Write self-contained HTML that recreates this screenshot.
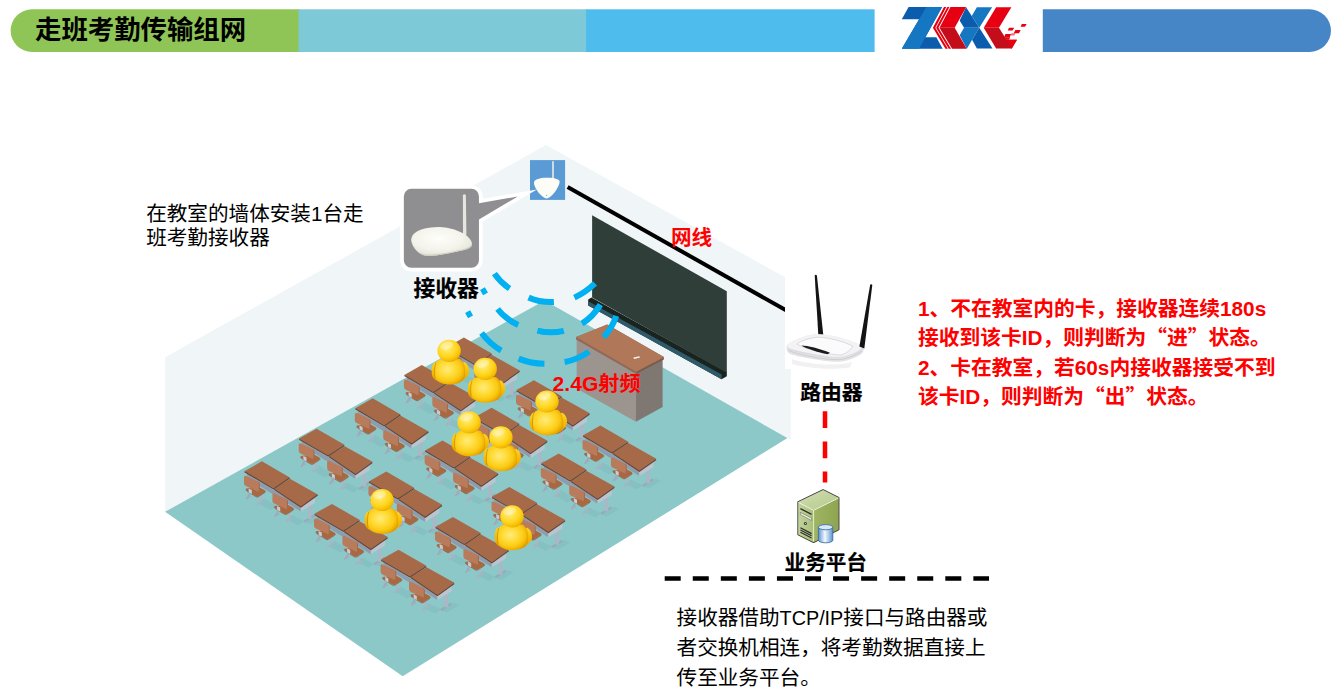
<!DOCTYPE html>
<html lang="zh-CN">
<head>
<meta charset="utf-8">
<title>走班考勤传输组网</title>
<style>
html,body{margin:0;padding:0;background:#fff;}
body{width:1337px;height:698px;overflow:hidden;position:relative;font-family:"Liberation Sans","Noto Sans CJK SC",sans-serif;}
svg{position:absolute;left:0;top:0;display:block;}
text{font-family:"Liberation Sans","Noto Sans CJK SC",sans-serif;}
.b{font-weight:bold;}
.h{stroke:#000;stroke-width:0.2px;}
.red{fill:#ff0000;}
</style>
</head>
<body>
<svg width="1337" height="698" viewBox="0 0 1337 698">
<defs>
<radialGradient id="gHead" cx="0.4" cy="0.34" r="0.68">
<stop offset="0" stop-color="#fff0a0"/><stop offset="0.3" stop-color="#ffe352"/><stop offset="0.65" stop-color="#ffd41c"/><stop offset="0.9" stop-color="#f6bd02"/><stop offset="1" stop-color="#e8ab00"/>
</radialGradient>
<radialGradient id="gBody" cx="0.42" cy="0.4" r="0.64">
<stop offset="0" stop-color="#ffeb7c"/><stop offset="0.4" stop-color="#ffdc3a"/><stop offset="0.72" stop-color="#fbca14"/><stop offset="0.92" stop-color="#eeb000"/><stop offset="1" stop-color="#dc9c00"/>
</radialGradient>
<linearGradient id="gArm" x1="0" y1="0" x2="0" y2="1">
<stop offset="0" stop-color="#ffd528"/><stop offset="0.5" stop-color="#f6bc04"/><stop offset="1" stop-color="#e8a800"/>
</linearGradient>
<g id="chair">
<path d="M5.4,22.6 L2.6,27.6" stroke="#9ca9ba" stroke-width="1.8" fill="none"/>
<path d="M1.4,28 L6.6,25" stroke="#a0adbd" stroke-width="1.5" fill="none"/>
<path d="M16.3,24 L16.3,31" stroke="#aab6c6" stroke-width="2" fill="none"/>
<path d="M12.8,33.2 L19.6,29.4" stroke="#a6b3c3" stroke-width="1.8" fill="none"/>
<path d="M1.6,17.4 Q1.2,18.6 2.4,19.4 L11.4,25 Q12.6,25.8 13.8,25.2 L20.4,21 Q21.6,20 20.4,19 L15,16 Z" fill="#aa6840"/>
<path d="M1.6,18.4 Q1.6,19.2 2.4,19.8 L11.4,25.4 Q12.6,26.2 13.8,25.6 L20.4,21.4 Q21,20.8 21,20.2" stroke="#8a5233" stroke-width="0.7" fill="none"/>
<path d="M-0.4,6.2 Q-0.4,4 1.8,4.8 L13.6,10.4 Q15.2,11.2 15.2,13 L15.2,19 Q15.2,21 13.2,20.2 L1.4,14.8 Q-0.4,14 -0.4,12.2 Z" fill="#b87c5d"/>
<path d="M13.8,10.6 Q15.2,11.4 15.2,13 L15.2,19 Q15.2,20.6 14,20.4 Q14.5,19.6 14.5,18.4 L14.5,12.6 Q14.5,11.4 13.8,10.6 Z" fill="#9a6244"/>
<polygon points="4.2,17.2 7.4,18.8 7.4,22.8 4.4,21.4" fill="#c3cdd8"/>
</g>
<g id="desk">
<polygon points="20,27 33,35 26,39 14,32" fill="#80bcbe" opacity="0.55"/>
<polygon points="48,44 60,50 54,54 42,48" fill="#80bcbe" opacity="0.55"/>
<polygon points="60,51 73,43 78,45.6 66,53" fill="#80bcbe" opacity="0.55"/>
<path d="M59.8,50.4 L70.4,43.8" stroke="#9aa8b8" stroke-width="2.2" fill="none"/>
<rect x="63.4" y="31" width="3.6" height="16.8" fill="#aab7c6"/>
<polygon points="2.6,2.4 56.4,35.4 56.4,40.4 2.6,7" fill="#8e9dae"/>
<polygon points="56.4,35.4 70.6,27 70.6,31.6 56.4,40.4" fill="#b9c5d1"/>
<polygon points="0,0 17.5,-9.9 45.4,6.2 29,16.9" fill="#a66a48"/>
<polygon points="29.6,17.4 45.6,7.6 73.4,23.2 56.5,35.2" fill="#a66a48"/>
<path d="M0.2,0.6 L29,17.5 L45.2,6.9" stroke="#6e4230" stroke-width="1.2" fill="none" stroke-linejoin="round"/>
<path d="M29.8,18 L56.5,35.8 L73.2,23.9" stroke="#6e4230" stroke-width="1.2" fill="none" stroke-linejoin="round"/>
<use href="#chair"/>
<use href="#chair" x="28.4" y="17.5"/>
</g>
<g id="person">
<path d="M-13.9,10.9 C-16.5,13 -17.6,16.5 -17.4,19.6 C-17.6,23 -16.8,26 -15.4,27.5 C-14.6,28.6 -13.4,29.4 -12.3,29.8 L-11,12 Z" fill="url(#gArm)"/>
<path d="M15.3,11.3 C18.4,13 20,16 20,19.6 C20.2,22.6 19,25 16.9,26.7 C15.8,28 14,29.6 12.4,30.6 L12,12 Z" fill="url(#gArm)"/>
<path d="M-9.1,8.6 C-12.4,9.4 -14,13 -14.3,19 C-14.6,24 -14.2,27.4 -12.3,29.8 C-9,32.4 -5,33.8 -0.5,33.8 C4,33.8 8.4,33 11.3,31.4 C14.4,29.6 15.6,27 15.6,22 C15.8,16 14.6,10.6 10.6,8.2 Z" fill="url(#gBody)"/>
<path d="M-13.3,11.6 C-14.7,16 -14.9,23 -14,28" stroke="#b87c00" stroke-width="0.7" fill="none" opacity="0.8"/>
<path d="M14.3,11.6 C15.7,16 16,22 15.3,27.2" stroke="#cf9300" stroke-width="0.6" fill="none" opacity="0.6"/>
<ellipse cx="0" cy="0" rx="11.7" ry="11.1" fill="url(#gHead)"/>
<ellipse cx="-2.4" cy="-5.2" rx="6.6" ry="3.8" fill="#fffad2" opacity="0.4" transform="rotate(-15 -2.4 -5.2)"/>
</g>

</defs>
<!-- header -->
<g id="header">
<path d="M32,9.3 H300 V52 H32 A21.35,21.35 0 0 1 32,9.3 Z" fill="#8fc556"/>
<rect x="298.55" y="9.3" width="289" height="42.7" fill="#7ec9d7"/>
<rect x="586.1" y="9.3" width="288.5" height="42.7" fill="#4ebced"/>
<path d="M1042.8,9.3 H1309.6 A21.35,21.35 0 0 1 1309.6,52 H1042.8 Z" fill="#4786c6"/>
<text x="35" y="38.5" font-size="26.4" class="b" fill="#000">走班考勤传输组网</text>
</g>
<g id="logo" transform="translate(895,0) scale(0.104712)">
<polygon points="130,68 450,68 290,355 395,355 455,465 65,465 230,185 65,185" fill="#0b5cad"/>
<polygon points="300,68 450,68 230,465 65,465 230,185" fill="#1576c2"/>
<polygon points="468,68 490,68 385,265 505,465 482,465 362,265" fill="#e60012"/>
<polygon points="500,68 520,68 415,265 535,465 513,465 393,265" fill="#e60012"/>
<polygon points="678.7,68.9 733,153.2 805,264.2 659.5,264.2 617.4,195.3" fill="#0b5cad"/>
<polygon points="782,68.9 927.6,68.9 805,264.2 733,153.2" fill="#1576c2"/>
<polygon points="659.5,264.2 805,264.2 736.1,379.1 688,463.4 684,463.4 617.4,337" fill="#1576c2"/>
<polygon points="805,264.2 931.4,463.4 782,463.4 736.1,379.1" fill="#0b5cad"/>
<polygon points="530,68 680,68 570,265 425,265" fill="#e60012"/>
<polygon points="425,265 570,265 685,465 545,465" fill="#c30d1a"/>
<polygon points="965.9,68.9 1111.4,68.9 992.7,264.2 847.2,264.2" fill="#e60012"/>
<polygon points="847.2,264.2 992.7,264.2 1065.4,379.1 1165,379.1 1115.2,463.4 965.9,463.4" fill="#c30d1a"/>
<polygon points="1065.4,379.1 1165,379.1 1115.2,463.4 1108,463.4" fill="#e60012"/>
<g fill="#e60012">
<polygon points="1211,230 1257,230 1241.6,256.6 1199.5,256.6"/>
<polygon points="1088.4,264.2 1138.2,264.2 1122.9,291 1077,291"/>
<polygon points="1149.7,287.2 1199.5,287.2 1184.2,317.8 1134.4,317.8"/>
<polygon points="1054,325.5 1107.6,325.5 1096.1,356.1 1042.5,356.1"/>
<polygon points="1112,318 1150,318 1140,340 1102,340" opacity="0.55"/>
<polygon points="1046,356 1100,356 1090,379.1 1060,379.1"/>
</g>
</g>

<g id="room">
<!-- walls -->
<polygon points="165.1,357.2 546,145 790.8,280.3 790.8,440 545,302 165.1,512.4" fill="#f0f6f8"/>
<!-- floor -->
<polygon points="165.1,511.8 544.6,300.4 787.4,438.1 402.7,676.3" fill="#8dc8c9"/>
<!-- blackboard -->
<polygon points="588.2,299.6 591.4,297.6 726.8,372 726.8,376.2 721.6,379.2 588.2,305.4" fill="#19231f"/>
<polygon points="588.2,301.2 721.6,374.6 721.6,379.2 588.2,305.4" fill="#2f5a6a"/>
<polygon points="592.1,215.3 726.8,291.2 726.8,372.8 592.1,297.4" fill="#2f3e38"/>
<!-- network cable -->
<line x1="567.6" y1="187" x2="786" y2="310.3" stroke="#000" stroke-width="4"/>
<!-- podium -->
<polygon points="576.6,339 636.2,373.4 635.9,421.8 576.6,388.6" fill="#9c958f"/>
<polygon points="636.2,373.4 662.6,359.2 662.6,407 635.9,421.8" fill="#7f7872"/>
<polygon points="576.1,337.1 607.2,324.5 663.9,357.1 636.2,371.8 636.2,374 576.1,339.6" fill="#8e6a58"/>
<polygon points="576.1,337.1 607.2,324.5 663.9,357.1 636.2,371.8" fill="#b07858"/>
<polygon points="636.2,371.8 663.9,357.1 663.9,359.4 636.2,374" fill="#7d5a48"/>
<polygon points="633.4,357.6 639.4,356.2 640,357.6 634,359" fill="#f4f4f4"/>
</g>

<g id="desks">
<use href="#desk" x="446.4" y="347.4"/>
<use href="#desk" x="404.3" y="374.9"/>
<use href="#desk" x="355.2" y="408.2"/>
<use href="#desk" x="299.1" y="438.6"/>
<use href="#desk" x="244.4" y="471.2"/>
<use href="#desk" x="516.4" y="390.1"/>
<use href="#desk" x="474.1" y="417.6"/>
<use href="#desk" x="425" y="450.4"/>
<use href="#desk" x="368.8" y="481.5"/>
<use href="#desk" x="314.4" y="513.8"/>
<use href="#desk" x="582.9" y="435.5"/>
<use href="#desk" x="541.2" y="463.4"/>
<use href="#desk" x="491.9" y="496.8"/>
<use href="#desk" x="435.4" y="526.9"/>
<use href="#desk" x="381" y="559.6"/>
</g>

<g id="people">
<use href="#person" x="449.1" y="350.8"/>
<use href="#person" x="485.2" y="368.9"/>
<use href="#person" x="547" y="401.5"/>
<use href="#person" x="469.1" y="422.4"/>
<use href="#person" x="500.9" y="437.4"/>
<use href="#person" x="382" y="500"/>
<use href="#person" x="512" y="516.4"/>
</g>

<g id="arcs" fill="none" stroke="#00b0f0" stroke-width="6">
<path d="M494.4,273.6 Q500.5,282.5 509.6,288.6"/>
<path d="M528.6,297.4 Q540,302.6 553.9,302"/>
<path d="M574.4,297.6 Q585.6,292.4 595,283.4"/>
<path d="M481.6,292.6 L486.4,289.8"/>
<path d="M497.6,309 Q506,319.6 518.2,325"/>
<path d="M537.4,330.6 Q550.6,334 563.8,330.8"/>
<path d="M582,323.6 Q593.2,316.6 600.4,304.6"/>
<path d="M466.6,315.6 L471.6,312.8"/>
<path d="M481.6,333 Q489.6,343.6 501.2,350.6"/>
<path d="M518.6,358.6 Q531,363.6 544.4,363.8"/>
<path d="M564.6,362 Q577.6,359.6 589,351.6"/>
<path d="M603.6,337.2 Q612.4,327.6 616.2,315.8"/>
</g>
<text x="552.6" y="390.6" font-size="20.6" class="b red" textLength="88" lengthAdjust="spacingAndGlyphs">2.4G射频</text>

<g id="devices">
<!-- receiver on wall -->
<rect x="530" y="160.1" width="35.1" height="39.8" fill="#5b9bd5"/>
<rect x="552.2" y="161.2" width="1.6" height="18" fill="#ecece4"/>
<path d="M534,182.5 C534.5,179 541,177.6 547,177.8 C553,177.6 559,178.6 559.6,181.6 C560,185 553,197.6 547,198.4 C541.6,198.4 533.6,187 534,182.5 Z" fill="#fdfdf8"/>
<circle cx="546.6" cy="195.4" r="0.6" fill="#6c6"/>
<!-- callout -->
<path d="M411.3,187 H471.5 A9.3,9.3 0 0 1 480.8,196.3 V201 L527.3,193 L480.8,220.5 V260.3 A9.3,9.3 0 0 1 471.5,269.6 H411.3 A9.3,9.3 0 0 1 402,260.3 V196.3 A9.3,9.3 0 0 1 411.3,187 Z" fill="#8f8f91" stroke="#fff" stroke-width="3.7" stroke-linejoin="miter" stroke-miterlimit="30"/>
<path d="M462.9,195.2 Q464.4,193.4 465.9,195.2 L466.4,235 L463,235 Z" fill="#e6e6de"/>
<radialGradient id="gDome" cx="0.45" cy="0.4" r="0.65"><stop offset="0" stop-color="#fefefa"/><stop offset="0.6" stop-color="#f4f4ec"/><stop offset="1" stop-color="#e2e2d6"/></radialGradient>
<path d="M411.2,240 C411,233 420,227.6 437,227 C452,227 468,233 471.6,242 C473,246 470,248.6 462,250.6 C450,253.6 436,256 428,256 C420,256 412,248 411.2,240 Z" fill="url(#gDome)"/>
<path d="M412.6,245 C415,250 420,254.6 428,254.6 C436,254.6 450,252.4 462,249.4 C468,248 471,246 472,243.4 C473,246.6 470,248.6 462,250.6 C450,253.6 436,256 428,256 C421,256 415,251 412.6,245 Z" fill="#cfcfc4"/>
<circle cx="428.6" cy="248.2" r="0.5" fill="#fff"/>
<!-- router image -->
<rect x="785" y="266" width="100" height="103" fill="#fff"/>
<path d="M792,359 C806,364 836,367 852,362 L850,367.6 C836,370 806,368.4 792,364 Z" fill="#f1f1f2"/>
<path d="M814.7,275.4 Q815.8,274.2 816.9,275.4 L823.3,335 L818.4,336 Z" fill="#141414"/>
<path d="M786.6,346.6 C787,343.4 795,339.6 806,336 C812,334.2 818,333.8 826,334.8 C840,336.6 858,343 862.8,346.6 C864.4,348.2 864,351.6 861.8,353.8 C856,358 846,361.6 839,361.8 C830,362.2 800,357.6 790,354 C787,352.6 786.4,349.6 786.6,346.6 Z" fill="#e3e3e6"/>
<path d="M787.4,346 C788,343.4 795,339.6 806,336 C812,334.2 818,333.8 826,334.8 C840,336.6 858,343 862.4,346.2 C862,349 856,353.4 846,356.4 C842,357.6 838,357.8 834,357.4 C822,356 800,351.6 790,348.6 C788.4,348 787.4,347 787.4,346 Z" fill="#f3f3f5"/>
<path d="M797,344.2 C800,341 810,337.8 818,337.2 C828,337.2 846,342 852.6,346.2 C851,350 846,353.6 841,355 C832,355.2 806,349.6 797,344.2 Z" fill="#fbfbfc" stroke="#cfcfd4" stroke-width="0.7"/>
<path d="M801.4,345.4 C806,345.2 820,348.4 830,352.8 L827.6,354.2 C818,352 806,348.6 801.4,345.4 Z" fill="#1c1c1c"/>
<path d="M788.6,350.6 C800,355.6 828,360.2 839,359.6 C846,359.2 856,355.4 862,351" fill="none" stroke="#c6c6cc" stroke-width="0.8"/>
<path d="M787.6,348.6 C800,353.4 828,358 839,357.4 C846,357 856,353.4 862.6,349" fill="none" stroke="#d2d2d7" stroke-width="0.6"/>
<path d="M870.2,284.6 Q871.4,283.6 872.3,284.9 L864.3,348.6 L859.4,346.4 Z" fill="#141414"/>
<!-- red dashed -->
<line x1="825" y1="411.2" x2="825" y2="482.6" stroke="#ff0000" stroke-width="4.5" stroke-dasharray="16.8 13.4"/>
<!-- server -->
<linearGradient id="gSrvT" x1="0" y1="0" x2="1" y2="1"><stop offset="0" stop-color="#d2deb4"/><stop offset="1" stop-color="#b4c888"/></linearGradient>
<linearGradient id="gSrvF" x1="0" y1="0" x2="1" y2="0"><stop offset="0" stop-color="#c3d39d"/><stop offset="1" stop-color="#a9bf78"/></linearGradient>
<linearGradient id="gSrvR" x1="0" y1="0" x2="1" y2="0"><stop offset="0" stop-color="#a0b564"/><stop offset="1" stop-color="#8ea450"/></linearGradient>
<linearGradient id="gCyl" x1="0" y1="0" x2="1" y2="0"><stop offset="0" stop-color="#5b94cf"/><stop offset="0.45" stop-color="#f4f9fd"/><stop offset="1" stop-color="#5b94cf"/></linearGradient>
<polygon points="798.2,502.1 823.1,490 838.6,497.8 838.6,529.6 813.6,542.2 798.2,534.6" fill="#9bb15c" stroke="#3a3a3a" stroke-width="1.7" stroke-linejoin="round"/>
<polygon points="798.2,502.1 823.1,490 838.6,497.8 813.6,510.1" fill="url(#gSrvT)"/>
<polygon points="798.2,502.1 813.6,510.1 813.6,542.2 798.2,534.6" fill="url(#gSrvF)"/>
<polygon points="813.6,510.1 838.6,497.8 838.6,529.6 813.6,542.2" fill="url(#gSrvR)"/>
<path d="M798.4,502.4 L813.6,510.3 L838.4,498.1" fill="none" stroke="#f6f9ee" stroke-width="0.9"/>
<line x1="813.6" y1="510.3" x2="813.6" y2="541.6" stroke="#eef3e0" stroke-width="0.9"/>
<path d="M800.4,508.6 L811.6,514.4 M800.4,527.8 L811.6,533.6 M800.4,530 L811.6,535.8 M800.4,532.2 L811.6,538" stroke="#2e2e2e" stroke-width="1.2" fill="none"/>
<polygon points="800.4,512.4 811.6,518.2 811.6,520.4 800.4,514.6" fill="#f3f6ea" stroke="#555" stroke-width="0.5"/>
<circle cx="805.4" cy="523.6" r="1.5" fill="#333"/><circle cx="805.4" cy="523.6" r="0.6" fill="#ddd"/>
<path d="M818.4,527.2 V540.2 A7.2,2.6 0 0 0 832.8,540.2 V527.2 Z" fill="url(#gCyl)" stroke="#3b6ea5" stroke-width="0.9"/>
<ellipse cx="825.6" cy="527.2" rx="7.2" ry="2.6" fill="#d9e8f6" stroke="#3b6ea5" stroke-width="0.9"/>
<!-- black dashed -->
<line x1="664.7" y1="578.5" x2="989" y2="578.5" stroke="#000" stroke-width="4.4" stroke-dasharray="16 12.06"/>
</g>

<g id="texts" font-size="20.6">
<text x="146.2" y="221">在教室的墙体安装1台走</text>
<text x="146.2" y="245.4">班考勤接收器</text>
<text x="413.4" y="296" class="b h" font-size="21.8">接收器</text>
<text x="671" y="245" class="b red">网线</text>
<text x="800.2" y="400" class="b h" font-size="20.8">路由器</text>
<text x="784.6" y="570.4" class="b h" font-size="20.6">业务平台</text>
<text x="676.6" y="625.4">接收器借助<tspan font-size="19.8">TCP/IP</tspan>接口与路由器或</text>
<text x="676.6" y="655.2">者交换机相连，将考勤数据直接上</text>
<text x="676.6" y="684.8">传至业务平台。</text>
<g class="b red" font-size="20.75">
<text x="918" y="315.6">1、不在教室内的卡，接收器连续180s</text>
<text x="918" y="345.1">接收到该卡ID，则判断为<tspan font-family="Noto Sans CJK SC, sans-serif">“</tspan>进<tspan font-family="Noto Sans CJK SC, sans-serif">”</tspan>状态。</text>
<text x="918" y="374.6">2、卡在教室，若60s内接收器接受不到</text>
<text x="918" y="404.1">该卡ID，则判断为<tspan font-family="Noto Sans CJK SC, sans-serif">“</tspan>出<tspan font-family="Noto Sans CJK SC, sans-serif">”</tspan>状态。</text>
</g>
</g>

</svg>
</body>
</html>
